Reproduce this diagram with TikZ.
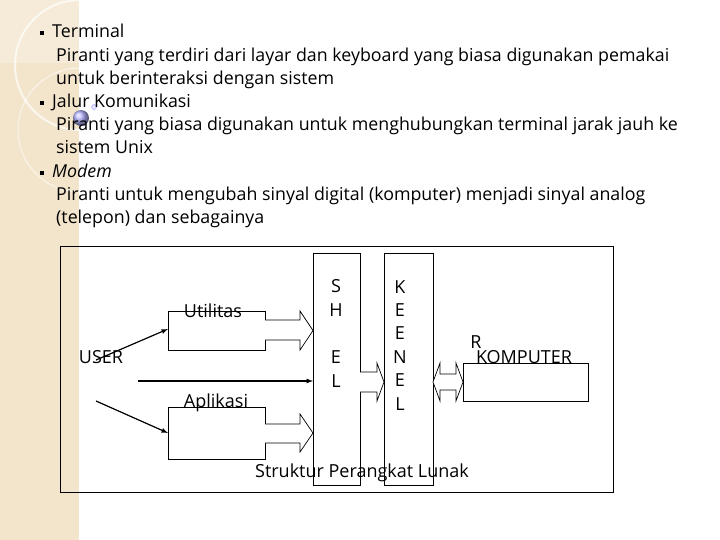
\documentclass[tikz,border=0pt]{standalone}
\usepackage{fontspec}
\setmainfont{Open Sans}
\begin{document}
\begin{tikzpicture}[x=1pt,y=-1pt,
  txt/.style={anchor=base west,inner sep=0,font=\fontsize{17.8}{20}\selectfont},
  lbl/.style={inner sep=0,font=\fontsize{18}{20}\selectfont},
  box/.style={draw=black,line width=0.9pt},
  thin/.style={line width=1.2pt,-latex},
  blk/.style={draw=black,fill=white,line width=0.7pt}]
\useasboundingbox (0,0) rectangle (720,540);
\fill[white] (0,0) rectangle (720,540);
\fill[orange!20!yellow!25!brown!25] (0,0) rectangle (79,540);
\draw[white,line width=2pt,opacity=0.7] (80,65) circle (65);
\draw[white,line width=1pt,opacity=0.6] (80,130) circle (62);
\fill[white,opacity=0.25] (0,0) rectangle (79,63);
\shade[ball color=blue!30] (81,118) circle (8);
\draw[blue!40,fill=blue!10] (94,107) circle (2.5);
% bullets and text
\foreach \yy in {38,108,178}{\fill (40,\yy-7) rectangle (44,\yy-3);}
\node[txt] (t1) at (52,38) {Terminal};
\node[txt] (t2) at (56,62) {Piranti yang terdiri dari layar dan keyboard yang biasa digunakan pemakai};
\node[txt] (t3) at (56,85) {untuk berinteraksi dengan sistem};
\node[txt] (t4) at (52,108) {Jalur Komunikasi};
\node[txt] (t5) at (56,131) {Piranti yang biasa digunakan untuk menghubungkan terminal jarak jauh ke};
\node[txt] (t6) at (56,154) {sistem Unix};
\node[txt] (t7) at (52,178) {\itshape Modem};
\node[txt] (t8) at (56,201) {Piranti untuk mengubah sinyal digital (komputer) menjadi sinyal analog};
\node[txt] (t9) at (56,224) {(telepon) dan sebagainya};
% diagram
\draw[box] (60,246) rectangle (613,492);
\draw[box] (168,311) rectangle (265,350);
\draw[box] (168,407) rectangle (265,459);
\draw[box] (313,253) rectangle (360,485);
\draw[box] (384,253) rectangle (433,485);
\draw[box] (463,363) rectangle (588,401);
% block arrows
\draw[blk] (265,320) -- (300,320) -- (300,311) -- (313,330.5) -- (300,350) -- (300,340) -- (265,340);
\draw[blk] (265,424) -- (300,424) -- (300,414) -- (313,433) -- (300,452) -- (300,443) -- (265,443);
\draw[blk] (360,372) -- (377,372) -- (377,363) -- (384,382) -- (377,401) -- (377,392) -- (360,392);
\draw[blk] (433,382) -- (440,363) -- (440,374) -- (456,374) -- (456,363) -- (463,382) -- (456,401) -- (456,390) -- (440,390) -- (440,401) -- cycle;
% thin arrows
\coordinate (u1) at (96,360); \coordinate (u2) at (138,381); \coordinate (u3) at (96,401);
\coordinate (ut) at (168,329); \coordinate (st) at (313,381); \coordinate (at) at (168,433);
\draw[thin] (u1) -- (ut);
\draw[thin] (u2) -- (st);
\draw[thin] (u3) -- (at);
% labels
\node[lbl] (user) at (101,357) {USER};
\node[lbl] (util) at (213,311) {Utilitas};
\node[lbl] (apl) at (216,403) {Aplikasi};
\node[lbl] (s1) at (336,286) {S};
\node[lbl] (s2) at (336,310) {H};
\node[lbl] (s3) at (336,357) {E};
\node[lbl] (s4) at (336,381) {L};
\node[lbl] (k1) at (400,287) {K};
\node[lbl] (k2) at (400,310) {E};
\node[lbl] (k3) at (400,333) {E};
\node[lbl] (k4) at (400,357) {N};
\node[lbl] (k5) at (400,380) {E};
\node[lbl] (k6) at (400,404) {L};
\node[lbl] (r) at (476,342) {R};
\node[lbl] (komp) at (524,357) {KOMPUTER};
\node[lbl] (struk) at (362,473) {Struktur Perangkat Lunak};
\end{tikzpicture}
\end{document}
